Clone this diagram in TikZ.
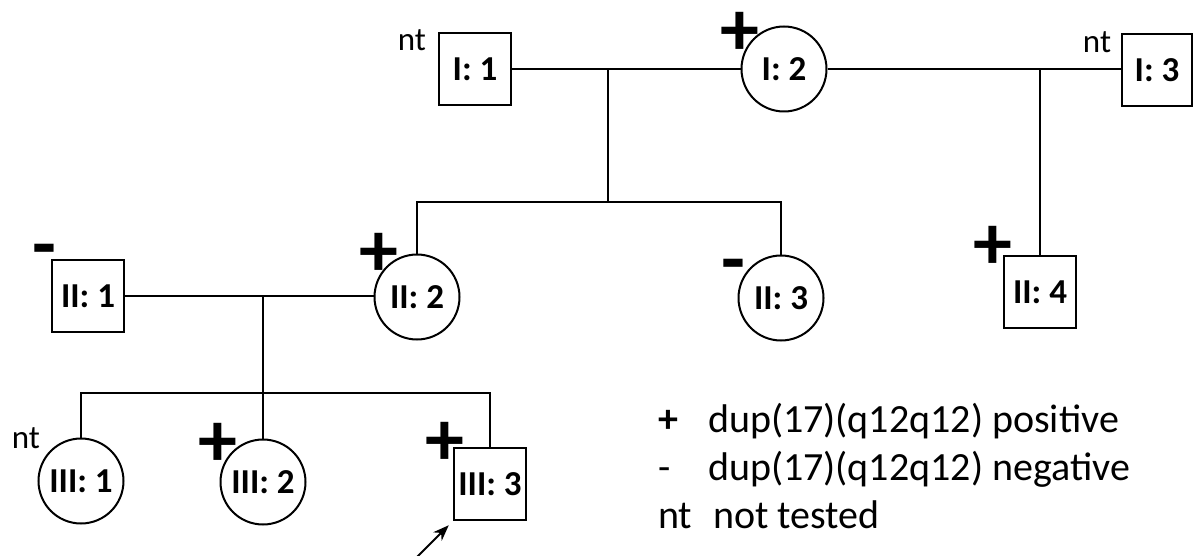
\documentclass[tikz,border=0pt]{standalone}
\usepackage{fontspec}
\setmainfont{Carlito}
\usetikzlibrary{arrows.meta,calc}
\begin{document}
\begin{tikzpicture}[x=1pt,y=-1pt,line width=2pt,
  lbl/.style={font=\fontsize{35}{40}\selectfont\bfseries,inner sep=0pt},
  male/.style={lbl,draw,rectangle,minimum width=72pt,minimum height=72pt},
  female/.style={lbl,draw,circle,minimum size=85pt},
  sign/.style={inner sep=0pt,font=\fontsize{78}{80}\selectfont\bfseries},
  ntlab/.style={inner sep=0pt,font=\fontsize{33}{38}\selectfont},
  legtext/.style={inner sep=0pt,anchor=base west,font=\fontsize{40}{48}\selectfont},
  legsign/.style={inner sep=0pt,anchor=base west,font=\fontsize{40}{48}\selectfont\bfseries}]
\useasboundingbox (0,0) rectangle (1193,556);
% generation I
\node[male] (I1) at (475,69) {I: 1};
\node[female] (I2) at (784,69) {I: 2};
\node[male,minimum width=70pt] (I3) at (1157,70) {I: 3};
% generation II
\node[male] (II1) at (88,296) {II: 1};
\node[female] (II2) at (417,297) {II: 2};
\node[female] (II3) at (781,298) {II: 3};
\node[male] (II4) at (1040,292) {II: 4};
% generation III
\node[female] (III1) at (81,481) {III: 1};
\node[female] (III2) at (263,482) {III: 2};
\node[male] (III3) at (490,484) {III: 3};
% couples
\draw (I1.east) -- (I1.east -| I2.west);
\draw (I2.east) -- (I2.east -| I3.west);
\draw (II1.east) -- (II1.east -| II2.west);
\coordinate (m1) at (608,69);
\coordinate (s1) at (608,202);
\coordinate (m2) at (1040,69);
\coordinate (m3) at (263,296);
\coordinate (s3) at (263,393);
% sibships
\draw (m1) -- (s1);
\draw (II2.north) -- (II2.north |- s1) -- (II3.north |- s1) -- (II3.north);
\draw (m2) -- (II4.north);
\draw (m3) -- (s3);
\draw (III1.north) -- (III1.north |- s3) -- (III3.north |- s3) -- (III3.north);
\draw (s3) -- (III2.north);
% test results
\node[sign] (pI2) at (740,34) {+};
\node[sign] (mII1) at (44,257) {-};
\node[sign] (pII2) at (379,255) {+};
\node[sign] (mII3) at (733,272) {-};
\node[sign] (pII4) at (993,248) {+};
\node[sign] (pIII2) at (218,445) {+};
\node[sign] (pIII3) at (445,444) {+};
\node[ntlab] (ntI1) at (412,40) {nt};
\node[ntlab] (ntI3) at (1097,42) {nt};
\node[ntlab] (ntIII1) at (26,438) {nt};
% proband arrow
\coordinate (arr) at (417,557);
\draw[-{Stealth[length=16pt,width=12pt]},shorten >=6pt] (arr) -- (III3.south west);
% legend
\node[legsign] (l1s) at (657,432) {+};
\node[legtext] (l1t) at (707,432) {dup(17)(q12q12) positive};
\node[legtext] (l2s) at (657,480) {-};
\node[legtext] (l2t) at (707,480) {dup(17)(q12q12) negative};
\node[legtext] (l3s) at (657,528) {nt};
\node[legtext] (l3t) at (712,528) {not tested};
\end{tikzpicture}
\end{document}
